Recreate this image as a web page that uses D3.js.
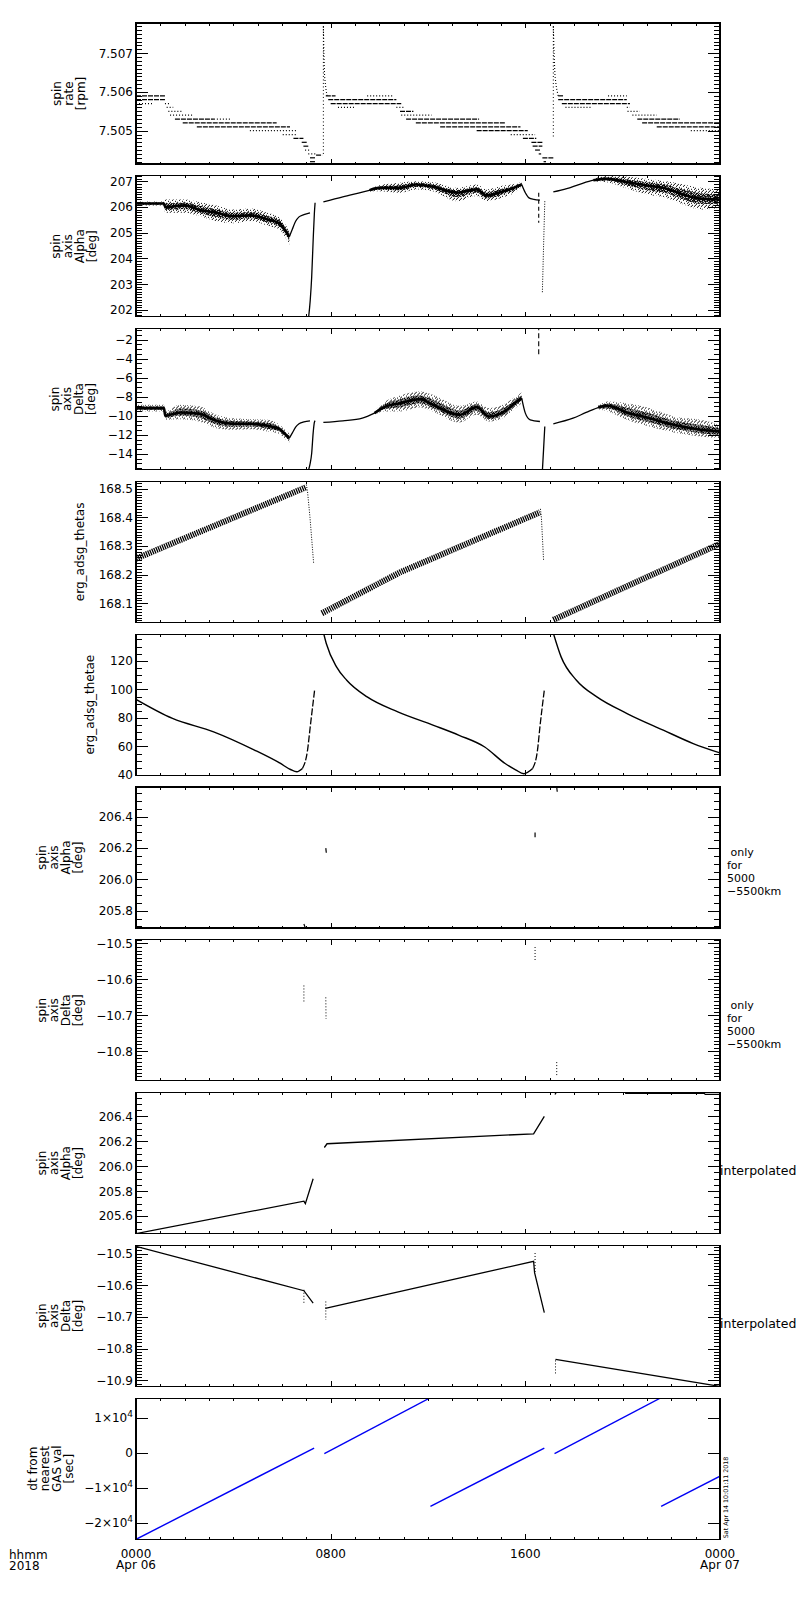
<!DOCTYPE html>
<html>

<head>
    <meta charset="utf-8">
    <title>ERG spin axis summary 2018-04-06</title>
    <script src="https://d3js.org/d3.v7.min.js"></script>
    <style>
        body {
            margin: 0;
            background: #fff;
        }

        svg {
            display: block;
        }

        text {
            font-family: "DejaVu Sans", sans-serif;
            fill: #000;
        }

        .axis line {
            stroke: #000;
            stroke-width: 1;
        }

        .axis text {
            font-size: 12px;
            font-family: "DejaVu Sans", sans-serif;
        }

        .frame {
            fill: none;
            stroke: #000;
            stroke-width: 1.2;
        }

        .ytitle {
            font-size: 12px;
        }
    </style>
</head>

<body>
    <div id="chart"></div>

    <script>
        // ---- panel definitions -------------------------------------------
        const panelTitles = [
            ["spin", "rate", "[rpm]"],
            ["spin", "axis", "Alpha", "[deg]"],
            ["spin", "axis", "Delta", "[deg]"],
            ["erg_adsg_thetas"],
            ["erg_adsg_thetae"],
            ["spin", "axis", "Alpha", "[deg]"],
            ["spin", "axis", "Delta", "[deg]"],
            ["spin", "axis", "Alpha", "[deg]"],
            ["spin", "axis", "Delta", "[deg]"],
            ["dt from", "nearest", "GAS val", "[sec]"]
        ];
        const panelDomains = [
            [7.50414, 7.50778], [201.73, 207.22], [-15.65, -0.84], [168.033, 168.526], [39.8, 138.7],
            [205.69, 206.59], [-10.882, -10.49], [205.46, 206.59], [-10.919, -10.474], [-24660, 15500]
        ];
        const panelMajor = [
            [7.505, 7.506, 7.507],
            [202, 203, 204, 205, 206, 207],
            [-14, -12, -10, -8, -6, -4, -2],
            [168.1, 168.2, 168.3, 168.4, 168.5],
            [40, 60, 80, 100, 120],
            [205.8, 206.0, 206.2, 206.4],
            [-10.8, -10.7, -10.6, -10.5],
            [205.6, 205.8, 206.0, 206.2, 206.4],
            [-10.9, -10.8, -10.7, -10.6, -10.5],
            [-20000, -10000, 0, 10000]
        ];
        const panelMinorStep = [0.0001, 0.1, 0.5, 0.01, 5, 0.05, 0.01, 0.05, 0.01, 0];
        const panelFormats = [".3f", "d", "d", ".1f", "d", ".1f", ".1f", ".1f", ".1f", "sci"];
        const sideNotes = [[], [], [], [], [],
            [" only", "for", "5000", "\u22125500km"],
            [" only", "for", "5000", "\u22125500km"],
            ["interpolated"], ["interpolated"], []];

        const hourTicks = [0, 8, 16, 24];
        const hourLabels = ["0000", "0800", "1600", "0000"];
        const dayLabels = ["Apr 06", "", "", "Apr 07"];
        const stamp = "Sat Apr 14 10:01:11 2018";

        // ---- spin rate: quantised runs [start h, end h, rpm] -------------
        const rateRunsDense = [
            [0, 1.19, 7.5059], [0, 1.19, 7.5058], [1.6, 3.2, 7.5053], [1.92, 5.78, 7.5052],
            [2.5, 6.33, 7.5051], [6.47, 6.88, 7.5048], [6.81, 7.02, 7.5047], [6.88, 7.08, 7.5046],
            [7.15, 7.36, 7.5043], [7.15, 7.36, 7.5042], [7.4, 7.65, 7.50437],
            [7.8, 8.2, 7.5059], [7.9, 10.7, 7.5058], [8.0, 10.9, 7.5057], [10.85, 11.4, 7.5055],
            [11.1, 14.1, 7.5053], [11.5, 15.2, 7.5052], [12.5, 15.8, 7.5051], [14.0, 16.1, 7.5050],
            [15.9, 16.45, 7.5048], [16.25, 16.7, 7.5047], [16.3, 16.7, 7.5046], [16.4, 16.6, 7.5045],
            [16.55, 16.65, 7.5044], [16.7, 17.15, 7.5043], [16.75, 16.85, 7.5042],
            [17.35, 17.55, 7.5059], [17.35, 20.17, 7.5058], [17.5, 20.3, 7.5057],
            [20.6, 22.35, 7.5053], [20.8, 24, 7.5052], [21.4, 24, 7.5051]
        ];
        const rateRunsSparse = [
            [0, 0.7, 7.5057], [1.19, 1.4, 7.5057], [1.26, 1.53, 7.5056], [1.33, 1.88, 7.5055],
            [1.4, 2.36, 7.5054], [3.2, 3.86, 7.5053], [4.68, 6.6, 7.5050], [6.03, 6.6, 7.5049],
            [6.95, 7.12, 7.5045], [7.08, 7.43, 7.5044], [8.3, 9.0, 7.5056], [9.5, 10.6, 7.5059],
            [10.7, 11.05, 7.5056], [10.9, 12.15, 7.5054], [15.4, 16.4, 7.5049], [17.65, 18.7, 7.5056],
            [19.4, 20.17, 7.5059], [20.17, 20.3, 7.5056], [20.2, 20.7, 7.5055], [20.4, 21.4, 7.5054],
            [22.8, 24, 7.5050]
        ];
        const rateSpikes = [[7.7, 7.5044, 7.5077], [17.15, 7.50485, 7.5077]];
        const rateSpikeTails = [
            [[7.7, 7.5077], [7.72, 7.507], [7.75, 7.5064], [7.8, 7.5061], [7.85, 7.5059]],
            [[17.15, 7.5077], [17.18, 7.507], [17.22, 7.5064], [17.28, 7.5061], [17.35, 7.5059]]
        ];

        // ---- spin axis alpha: scatter bands [h, low, middle, high] -------
        const alphaBands = [
            [[0, 206.06, 206.14, 206.22], [1.15, 206.06, 206.14, 206.22], [1.2, 205.78, 206.0, 206.3],
             [2.0, 205.78, 206.07, 206.3], [2.6, 205.65, 205.9, 206.2], [3.3, 205.45, 205.78, 206.06],
             [4.0, 205.37, 205.65, 205.91], [4.7, 205.46, 205.68, 205.95], [5.4, 205.28, 205.52, 205.78],
             [5.9, 205.13, 205.37, 205.6], [6.15, 204.8, 205.07, 205.3], [6.3, 204.54, 204.85, 205.07]],
            [[9.6, 206.62, 206.66, 206.7], [10.0, 206.62, 206.75, 206.85], [10.85, 206.56, 206.75, 206.95],
             [11.5, 206.69, 206.88, 207.01], [12.2, 206.62, 206.79, 206.97], [13.2, 206.23, 206.56, 206.75],
             [14.0, 206.43, 206.69, 206.88], [14.4, 206.23, 206.46, 206.69], [15.0, 206.36, 206.59, 206.82],
             [15.6, 206.59, 206.78, 206.91], [15.85, 206.78, 206.88, 206.98]],
            [[18.8, 207.0, 207.05, 207.1], [19.35, 206.97, 207.1, 207.22], [20.2, 206.72, 206.97, 207.18],
             [21.0, 206.49, 206.84, 207.1], [21.8, 206.36, 206.72, 207.01], [22.5, 206.1, 206.49, 206.88],
             [23.2, 205.91, 206.33, 206.75], [24, 205.97, 206.3, 206.69]]
        ];
        const alphaLines = [
            [[6.3, 204.85], [6.42, 205.13], [6.56, 205.45], [6.7, 205.62], [6.9, 205.71], [7.15, 205.78]],
            [[7.08, 201.6], [7.16, 202.37], [7.22, 203.28], [7.28, 204.7], [7.33, 205.75], [7.36, 206.17]],
            [[7.7, 206.2], [8.5, 206.4], [9.3, 206.58], [10.0, 206.75]],
            [[15.85, 206.88], [16.0, 206.56], [16.15, 206.36], [16.35, 206.3], [16.6, 206.27]],
            [[17.15, 206.59], [17.7, 206.72], [18.2, 206.88], [18.8, 207.05], [19.35, 207.1]]
        ];
        const alphaDashed = [[[16.55, 206.56], [16.55, 205.39]]];
        const alphaDotted = [[[16.8, 206.23], [16.75, 204.5], [16.7, 202.67]]];

        // ---- spin axis delta ---------------------------------------------
        const deltaBands = [
            [[0, -9.54, -9.19, -8.84], [1.15, -9.54, -9.19, -8.84], [1.2, -10.42, -10.0, -9.54],
             [1.8, -10.35, -9.65, -8.84], [2.6, -10.6, -9.79, -9.0], [3.3, -11.3, -10.53, -9.9],
             [4.0, -11.47, -10.84, -10.25], [4.7, -11.4, -10.84, -10.35], [5.4, -11.65, -11.05, -10.42],
             [5.9, -11.9, -11.4, -10.95], [6.2, -12.6, -12.1, -11.65], [6.3, -12.8, -12.35, -11.82]],
            [[9.8, -9.9, -9.72, -9.54], [10.2, -9.54, -9.08, -8.56], [10.85, -9.54, -8.67, -7.86],
             [11.67, -9.09, -8.25, -7.44], [12.2, -9.54, -8.84, -7.79], [13.3, -10.7, -9.9, -8.95],
             [14.0, -9.9, -9.09, -8.49], [14.5, -10.6, -10.07, -9.19], [15.2, -10.07, -9.44, -8.67],
             [15.6, -9.19, -8.6, -7.96], [15.85, -8.67, -8.14, -7.54]],
            [[19.0, -9.3, -9.09, -8.9], [19.4, -9.54, -8.95, -8.49], [20.17, -10.42, -9.65, -8.67],
             [21.1, -11.12, -10.25, -9.19], [22.1, -11.75, -10.95, -10.07], [23.2, -12.17, -11.47, -10.42],
             [24, -12.35, -11.65, -10.95]]
        ];
        const deltaLines = [
            [[6.3, -12.35], [6.42, -11.82], [6.56, -11.19], [6.7, -10.84], [6.9, -10.63], [7.15, -10.53]],
            [[7.08, -15.8], [7.16, -14.98], [7.22, -13.93], [7.28, -11.82], [7.33, -10.7], [7.36, -10.5]],
            [[7.7, -10.7], [8.5, -10.53], [9.3, -10.25], [9.8, -9.72]],
            [[15.85, -8.14], [16.0, -9.72], [16.2, -10.42], [16.6, -10.6]],
            [[16.7, -15.8], [16.75, -13.5], [16.8, -11.12]],
            [[17.15, -10.84], [17.96, -10.25], [18.5, -9.65], [19.07, -9.09], [19.4, -8.95]]
        ];
        const deltaDashed = [[[16.55, -0.5], [16.55, -3.76]]];

        // ---- erg_adsg_thetas ---------------------------------------------
        const thetasRuns = [
            [[0, 168.256], [3.5, 168.381], [7.0, 168.506]],
            [[7.64, 168.065], [10.85, 168.208], [16.6, 168.418]],
            [[17.15, 168.042], [24, 168.308]]
        ];
        const thetasDrops = [
            [[7.0, 168.515], [7.05, 168.49], [7.15, 168.40], [7.3, 168.24]],
            [[16.62, 168.43], [16.66, 168.40], [16.75, 168.25]]
        ];

        // ---- erg_adsg_thetae ---------------------------------------------
        const thetaeFall = [
            [[0, 93], [1.5, 79.6], [3.19, 70.2], [4.87, 57.4], [5.92, 48.2], [6.35, 43.8], [6.61, 42.2], [6.84, 44.5]],
            [[7.7, 140], [7.82, 132.2], [8.24, 115.8], [8.66, 106.4], [9.5, 94.7], [10.76, 84.2], [12.23, 74.8],
             [13.28, 67.8], [14.33, 59.6], [15.17, 48], [15.6, 43.6], [15.94, 40.8], [16.3, 44.5]],
            [[17.14, 140], [17.47, 122.8], [18.1, 106.4], [18.94, 94.7], [20.2, 82.9], [21.67, 71.4],
             [22.9, 62], [24, 55.4]]
        ];
        const thetaeRise = [
            [[6.84, 44.5], [7.05, 57.4], [7.16, 73.7], [7.34, 99.5]],
            [[16.3, 44.5], [16.5, 57.4], [16.6, 73.7], [16.78, 99.5]]
        ];

        // ---- 5000-5500 km only samples -----------------------------------
        const alphaOnly = [
            [[6.9, 205.715], [6.96, 205.69]], [[7.8, 206.2], [7.82, 206.17]],
            [[16.4, 206.3], [16.4, 206.27]], [[17.29, 206.59], [17.31, 206.56]]
        ];
        const deltaOnly = [
            [[6.9, -10.617], [6.9, -10.664]], [[7.8, -10.65], [7.81, -10.71]],
            [[16.4, -10.51], [16.4, -10.55]], [[17.29, -10.83], [17.29, -10.87]]
        ];

        // ---- interpolated alpha / delta ----------------------------------
        const alphaInterp = [
            [[0, 205.46], [6.9, 205.72], [6.96, 205.7], [7.28, 205.9]],
            [[7.74, 206.15], [7.85, 206.18], [16.34, 206.26], [16.78, 206.4]],
            [[17.22, 206.575], [17.26, 206.59]],
            [[20.1, 206.583], [23.35, 206.583], [23.4, 206.575], [24, 206.575]]
        ];
        const deltaInterp = [
            [[0, -10.477], [6.9, -10.617], [7.28, -10.656]],
            [[7.78, -10.673], [16.34, -10.524], [16.38, -10.56], [16.78, -10.686]],
            [[17.24, -10.834], [24, -10.919]]
        ];
        const deltaInterpDotted = [
            [[6.9, -10.614], [6.9, -10.661]], [[7.8, -10.651], [7.8, -10.709]],
            [[16.4, -10.498], [16.4, -10.561]], [[17.24, -10.837], [17.24, -10.879]]
        ];

        // ---- dt from nearest GAS value [sec] -----------------------------
        const dtRuns = [
            [[0, -24700], [7.32, 1300]],
            [[7.74, -300], [12.06, 15500]],
            [[12.1, -15300], [16.78, 1300]],
            [[17.2, -300], [21.54, 15500]],
            [[21.58, -15300], [24, -6700]]
        ];

        // ---- layout ------------------------------------------------------
        const totalWidth = 800, totalHeight = 1600;
        const plotLeft = 136, plotRight = 720;
        const firstTop = 23, pitch = 152.8, panelHeight = 141;
        const plotWidth = plotRight - plotLeft;
        const titleLastX = [81, 92, 91, 80, 90, 78, 78, 78, 78, 69];

        const svg = d3.select('#chart')
            .append('svg')
            .attr('width', totalWidth)
            .attr('height', totalHeight);

        const defs = svg.append('defs');
        // scatter texture for the noisy attitude bands (irregular pixel tiles)
        function speckle(id, size, pixels) {
            const p = defs.append('pattern').attr('id', id)
                .attr('width', size).attr('height', size).attr('patternUnits', 'userSpaceOnUse');
            pixels.forEach(q => p.append('rect').attr('x', q[0]).attr('y', q[1])
                .attr('width', 1).attr('height', 1).attr('fill', '#000'));
        }
        speckle('speckleSparse', 7, [[0, 0], [3, 1], [5, 2], [1, 3], [4, 4], [6, 5], [2, 6], [5, 6], [6, 1], [2, 2]]);
        speckle('speckleDense', 5, [[0, 0], [1, 0], [3, 0], [2, 1], [4, 1], [0, 2], [1, 2], [3, 2],
            [4, 3], [0, 3], [1, 4], [2, 4], [3, 4], [2, 3], [4, 0]]);

        const x = d3.scaleLinear().domain([0, 24]).range([0, plotWidth]);

        function sciLabel(textSel) {
            textSel.each(function (d) {
                const t = d3.select(this);
                t.text(null);
                if (d === 0) { t.text('0'); return; }
                const m = d / 10000;
                t.append('tspan').text((m < 0 ? '\u2212' : '') + Math.abs(m) + '\u00d710');
                t.append('tspan').attr('dy', '-0.55em').style('font-size', '9px').text('4');
            });
        }

        function minorValues(domain, step) {
            if (!step) return [];
            const k0 = Math.ceil(domain[0] / step - 1e-6), k1 = Math.floor(domain[1] / step + 1e-6);
            return d3.range(k0, k1 + 1).map(k => +(k * step).toFixed(6));
        }

        function drawAxes(g, y, i) {
            const major = panelMajor[i];
            const minor = minorValues(panelDomains[i], panelMinorStep[i]);
            const fmt = panelFormats[i] === 'sci' ? d3.format('d') : d3.format(panelFormats[i]);

            const left = g.append('g').attr('class', 'axis')
                .call(d3.axisLeft(y).tickValues(major).tickSize(-12).tickPadding(3).tickFormat(fmt));
            if (panelFormats[i] === 'sci') sciLabel(left.selectAll('text'));
            g.append('g').attr('class', 'axis')
                .call(d3.axisLeft(y).tickValues(minor).tickSize(-6).tickFormat(''));
            g.append('g').attr('class', 'axis').attr('transform', `translate(${plotWidth},0)`)
                .call(d3.axisRight(y).tickValues(major).tickSize(-12).tickFormat(''));
            g.append('g').attr('class', 'axis').attr('transform', `translate(${plotWidth},0)`)
                .call(d3.axisRight(y).tickValues(minor).tickSize(-6).tickFormat(''));

            const hours = d3.range(0, 25);
            g.append('g').attr('class', 'axis').attr('transform', `translate(0,${panelHeight})`)
                .call(d3.axisBottom(x).tickValues(hours).tickSize(-2.5).tickFormat(''));
            g.append('g').attr('class', 'axis').attr('transform', `translate(0,${panelHeight})`)
                .call(d3.axisBottom(x).tickValues(hourTicks).tickSize(-5).tickFormat(''));
            g.append('g').attr('class', 'axis')
                .call(d3.axisTop(x).tickValues(hours).tickSize(-2.5).tickFormat(''));
            g.append('g').attr('class', 'axis')
                .call(d3.axisTop(x).tickValues(hourTicks).tickSize(-5).tickFormat(''));

            g.selectAll('.axis .domain').remove();
            g.selectAll('.axis').attr('font-family', null).attr('font-size', null);
            g.selectAll('.axis line').attr('shape-rendering', 'crispEdges');

            g.append('rect').attr('class', 'frame')
                .attr('width', plotWidth).attr('height', panelHeight)
                .attr('shape-rendering', 'crispEdges');
        }

        function drawTitle(g, i) {
            const lines = panelTitles[i];
            const n = lines.length;
            lines.forEach((s, j) => {
                const cx = titleLastX[i] - plotLeft - (n - 1 - j) * 12;
                g.append('text').attr('class', 'ytitle')
                    .attr('transform', `translate(${cx},${panelHeight / 2}) rotate(-90)`)
                    .attr('text-anchor', 'middle')
                    .attr('dy', '0.35em')
                    .text(s);
            });
            const notes = sideNotes[i];
            notes.forEach((s, j) => {
                const single = notes.length === 1;
                g.append('text')
                    .attr('xml:space', 'preserve')
                    .attr('x', single ? plotWidth : plotWidth + 7)
                    .attr('y', panelHeight / 2 + (single ? 8 : -5) + j * 12.8)
                    .attr('dy', '0.35em')
                    .style('font-size', single ? '12.5px' : '11px')
                    .text(s);
            });
        }

        function pathLine(y, curve, k) {
            const col = k || 1;
            return d3.line().x(d => x(d[0])).y(d => y(d[col])).curve(curve || d3.curveLinear);
        }

        function drawBands(g, y, bands) {
            const outer = d3.area().x(d => x(d[0])).y0(d => y(d[1])).y1(d => y(d[3])).curve(d3.curveMonotoneX);
            const inner = d3.area().x(d => x(d[0]))
                .y0(d => y((d[1] + d[2]) / 2)).y1(d => y((d[3] + d[2]) / 2)).curve(d3.curveMonotoneX);
            const mid = pathLine(y, d3.curveMonotoneX, 2);
            bands.forEach(b => {
                g.append('path').attr('d', outer(b)).attr('fill', 'url(#speckleSparse)');
                g.append('path').attr('d', inner(b)).attr('fill', 'url(#speckleDense)');
                g.append('path').attr('d', mid(b)).attr('fill', 'none').attr('stroke', '#000').attr('stroke-width', 2.6);
            });
        }

        function strokes(g, y, list, width, dash, curve, color) {
            const ln = pathLine(y, curve);
            list.forEach(pts => {
                g.append('path').attr('d', ln(pts))
                    .attr('fill', 'none')
                    .attr('stroke', color || '#000')
                    .attr('stroke-width', width)
                    .attr('stroke-dasharray', dash || null);
            });
        }

        const painters = [
            // spin rate
            (g, y) => {
                rateRunsDense.forEach(r => g.append('line')
                    .attr('x1', x(r[0])).attr('x2', x(r[1])).attr('y1', y(r[2])).attr('y2', y(r[2]))
                    .attr('stroke', '#000').attr('stroke-width', 1.2).attr('stroke-dasharray', '5 1'));
                rateRunsSparse.forEach(r => g.append('line')
                    .attr('x1', x(r[0])).attr('x2', x(r[1])).attr('y1', y(r[2])).attr('y2', y(r[2]))
                    .attr('stroke', '#000').attr('stroke-width', 1.2).attr('stroke-dasharray', '1 2'));
                rateSpikes.forEach(s => g.append('line')
                    .attr('x1', x(s[0])).attr('x2', x(s[0])).attr('y1', y(s[1])).attr('y2', y(s[2]))
                    .attr('stroke', '#000').attr('stroke-width', 1).attr('stroke-dasharray', '1 2.5'));
                strokes(g, y, rateSpikeTails, 1.1, '1 2');
            },
            // alpha
            (g, y) => {
                drawBands(g, y, alphaBands);
                strokes(g, y, alphaLines, 1.3, null, d3.curveMonotoneX);
                strokes(g, y, alphaDashed, 1.1, '4 3');
                strokes(g, y, alphaDotted, 1, '1 1.5');
            },
            // delta
            (g, y) => {
                drawBands(g, y, deltaBands);
                strokes(g, y, deltaLines, 1.3, null, d3.curveMonotoneX);
                strokes(g, y, deltaDashed, 1.1, '5 3');
            },
            // thetas
            (g, y) => {
                strokes(g, y, thetasRuns, 6, '1.3 0.9');
                strokes(g, y, thetasDrops, 1, '1 1.5');
            },
            // thetae
            (g, y) => {
                strokes(g, y, thetaeFall, 1.4, null, d3.curveMonotoneX);
                strokes(g, y, thetaeRise, 1.3, '7 2', d3.curveMonotoneX);
            },
            // alpha 5000-5500 km
            (g, y) => strokes(g, y, alphaOnly, 1.2),
            // delta 5000-5500 km
            (g, y) => strokes(g, y, deltaOnly, 1, '1 2'),
            // alpha interpolated
            (g, y) => strokes(g, y, alphaInterp, 1.3),
            // delta interpolated
            (g, y) => {
                strokes(g, y, deltaInterp, 1.3);
                strokes(g, y, deltaInterpDotted, 1, '1 2');
            },
            // dt
            (g, y) => strokes(g, y, dtRuns, 1.4, null, null, '#0000f4')
        ];

        panelTitles.forEach((_, i) => {
            const top = firstTop + i * pitch;
            const g = svg.append('g').attr('transform', `translate(${plotLeft},${top})`);
            const y = d3.scaleLinear().domain(panelDomains[i]).range([panelHeight, 0]);

            const clipId = `clip-${i}`;
            defs.append('clipPath').attr('id', clipId)
                .append('rect').attr('width', plotWidth).attr('height', panelHeight);
            const data = g.append('g').attr('clip-path', `url(#${clipId})`);
            painters[i](data, y);

            drawAxes(g, y, i);
            drawTitle(g, i);
        });

        // time axis labels under the last panel
        const bottom = firstTop + 9 * pitch + panelHeight;
        const labels = svg.append('g').attr('transform', `translate(${plotLeft},${bottom})`);
        hourTicks.forEach((h, k) => {
            labels.append('text').attr('x', x(h)).attr('y', 18.5)
                .attr('text-anchor', 'middle').style('font-size', '12px').text(hourLabels[k]);
            labels.append('text').attr('x', x(h)).attr('y', 29.5)
                .attr('text-anchor', 'middle').style('font-size', '12px').text(dayLabels[k]);
        });
        svg.append('text').attr('x', 9).attr('y', bottom + 19.5).style('font-size', '12px').text('hhmm');
        svg.append('text').attr('x', 9).attr('y', bottom + 30.5).style('font-size', '12px').text('2018');

        // creation time stamp
        svg.append('text')
            .attr('transform', `translate(${plotRight + 8},${bottom - 1}) rotate(-90)`)
            .style('font-size', '6.3px')
            .text(stamp);
    </script>
</body>

</html>
